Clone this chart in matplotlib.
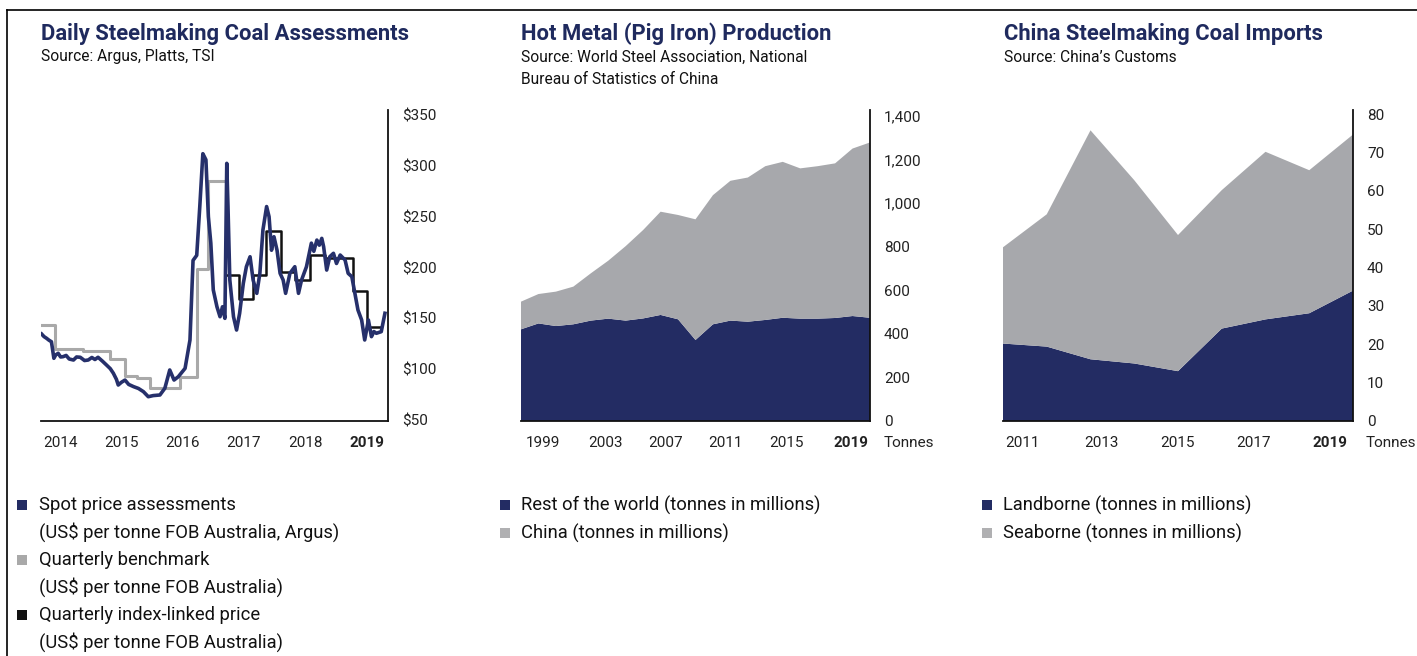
import numpy as np
import matplotlib
matplotlib.use("Agg")
import matplotlib.pyplot as plt
from matplotlib.patches import Rectangle
from matplotlib.lines import Line2D

plt.rcParams['font.family'] = ['Roboto', 'DejaVu Sans']

NAVY = '#232c63'
GREY = '#a7a8ac'
TITLE = '#1f2a5e'

# --- panel 1: daily steelmaking coal assessments (US$/t) ---
spot_t = [2013.70, 2013.74, 2013.78, 2013.82, 2013.86, 2013.90, 2013.93, 2013.97, 2014.01, 2014.05,
          2014.10, 2014.15, 2014.22, 2014.27, 2014.33, 2014.40, 2014.46, 2014.52, 2014.57, 2014.62,
          2014.69, 2014.76, 2014.82, 2014.87, 2014.92, 2014.95, 2015.00, 2015.06, 2015.12, 2015.20,
          2015.28, 2015.36, 2015.44, 2015.52, 2015.63, 2015.71, 2015.79, 2015.86, 2015.93, 2016.04,
          2016.12, 2016.17, 2016.23, 2016.28, 2016.33, 2016.38, 2016.42, 2016.46, 2016.50, 2016.56,
          2016.61, 2016.65, 2016.69, 2016.72, 2016.74, 2016.77, 2016.83, 2016.88, 2016.93, 2016.99,
          2017.04, 2017.10, 2017.15, 2017.21, 2017.26, 2017.31, 2017.37, 2017.41, 2017.45, 2017.49,
          2017.54, 2017.59, 2017.64, 2017.68, 2017.75, 2017.83, 2017.89, 2017.94, 2018.02, 2018.10,
          2018.14, 2018.19, 2018.23, 2018.27, 2018.30, 2018.35, 2018.40, 2018.46, 2018.51, 2018.57,
          2018.65, 2018.70, 2018.76, 2018.81, 2018.86, 2018.92, 2018.97, 2019.03, 2019.08, 2019.12,
          2019.16, 2019.24, 2019.30]
spot_v = [134.6, 132.0, 130.4, 128.5, 127.0, 110.7, 114.0, 115.6, 112.0, 112.3,
          113.5, 110.0, 109.0, 112.0, 111.7, 108.5, 109.0, 111.5, 109.5, 111.7,
          108.0, 104.0, 100.5, 96.0, 90.0, 84.4, 87.0, 89.3, 85.0, 82.8,
          81.0, 77.9, 72.9, 74.0, 74.6, 81.2, 99.2, 89.3, 92.6, 100.8,
          128.7, 207.0, 212.0, 260.0, 312.0, 306.0, 250.0, 224.0, 178.0, 161.4,
          151.6, 161.4, 150.0, 302.5, 260.0, 187.7, 151.6, 138.5, 155.0, 184.5,
          200.8, 210.6, 187.7, 174.6, 194.3, 237.0, 260.0, 250.0, 217.0, 230.3,
          217.0, 194.3, 187.7, 174.6, 194.3, 200.8, 174.6, 187.7, 200.8, 224.0,
          216.0, 227.0, 222.0, 228.7, 220.5, 197.5, 210.6, 214.0, 204.0, 212.3,
          207.4, 194.3, 191.0, 174.6, 158.2, 148.4, 128.7, 148.4, 132.0, 137.0,
          135.3, 136.9, 155.0]

bench_t = [2013.70, 2013.92, 2014.38, 2014.82, 2015.06, 2015.25, 2015.47, 2015.96, 2016.23, 2016.42, 2016.69]
bench_v = [143, 120, 118, 110, 93, 91, 81, 92, 199, 285]

index_t = [2016.72, 2016.92, 2017.14, 2017.36, 2017.61, 2017.83, 2018.08, 2018.32, 2018.78, 2019.01, 2019.24]
index_v = [193, 169, 193, 236, 196, 188, 212, 209, 177, 141]

price_ticks = [50, 100, 150, 200, 250, 300, 350]
years1 = [2014, 2015, 2016, 2017, 2018, 2019]

# --- panel 2: hot metal production (Mt) ---
years2 = list(range(1999, 2020))
rest_world = [421, 448, 436, 444, 461, 470, 461, 471, 487, 467, 372, 444, 461, 456, 464, 474, 470, 470, 473, 482, 474]
china = [127, 135, 158, 173, 217, 266, 342, 406, 474, 479, 554, 593, 642, 662, 706, 716, 690, 700, 710, 769, 805]
labels2 = ['1999', '2003', '2007', '2011', '2015', '2019']
label_pos2 = [2000.24, 2003.82, 2007.26, 2010.70, 2014.21, 2017.89]
ticks2 = [0, 200, 400, 600, 800, 1000, 1200, 1400]

# --- panel 3: China steelmaking coal imports (Mt) ---
years3 = list(range(2011, 2020))
landborne = [20.2, 19.4, 16.1, 15.0, 13.0, 24.1, 26.5, 28.1, 34.0]
seaborne = [25.1, 34.5, 59.7, 47.8, 35.5, 36.1, 43.7, 37.3, 40.7]
labels3 = ['2011', '2013', '2015', '2017', '2019']
label_pos3 = [2011.44, 2013.25, 2014.98, 2016.72, 2018.48]
ticks3 = [0, 10, 20, 30, 40, 50, 60, 70, 80]

W, H = 1417, 656
fig = plt.figure(figsize=(W / 100, H / 100), dpi=100)


def px_axes(x0, x1, y0=110, y1=421):
    return fig.add_axes([x0 / W, 1 - y1 / H, (x1 - x0) / W, (y1 - y0) / H])


def style(ax, xt, xl):
    for s in ['top', 'left']:
        ax.spines[s].set_visible(False)
    for s in ['bottom', 'right']:
        ax.spines[s].set_linewidth(1.3)
        ax.spines[s].set_color('#111111')
    ax.yaxis.tick_right()
    ax.tick_params(axis='both', length=0, labelsize=11, colors='#222222')
    ax.tick_params(axis='y', pad=10)
    ax.tick_params(axis='x', pad=11)
    for lab in ax.get_yticklabels():
        lab.set_horizontalalignment('left')
    ax.set_xticks(xt)
    ax.set_xticklabels(xl)
    ax.get_xticklabels()[-1].set_fontweight('bold')
    ax.set_facecolor('none')


ax1 = px_axes(41, 388)
ax1.step(bench_t, bench_v + [bench_v[-1]], where='post', color='#a9a9a9', lw=2.2)
ax1.step(index_t, index_v + [index_v[-1]], where='post', color='#111111', lw=1.8)
ax1.plot(spot_t, spot_v, color='#26306b', lw=2.6, solid_joinstyle='round')
ax1.set_xlim(2013.69, 2019.35)
ax1.set_ylim(49, 355)
ax1.set_yticks(price_ticks)
ax1.set_yticklabels(['$%d' % v for v in price_ticks])
style(ax1, years1, [str(y) for y in years1])

ax2 = px_axes(521, 870)
ax2.stackplot(years2, rest_world, china, colors=[NAVY, GREY], linewidth=0)
ax2.set_xlim(1999, 2019)
ax2.set_ylim(0, 1428)
ax2.set_yticks(ticks2)
ax2.set_yticklabels(['{:,}'.format(v) for v in ticks2])
style(ax2, label_pos2, labels2)

ax3 = px_axes(1003, 1353)
ax3.stackplot(years3, landborne, seaborne, colors=[NAVY, GREY], linewidth=0)
ax3.set_xlim(2011, 2019)
ax3.set_ylim(0, 81.1)
ax3.set_yticks(ticks3)
ax3.set_yticklabels([str(v) for v in ticks3])
style(ax3, label_pos3, labels3)

for xp in [884, 1366]:
    fig.text(xp / W, 1 - 443 / H, 'Tonnes', fontsize=11, color='#222222', va='center', ha='left')

# titles and sources
titles = [(41, 'Daily Steelmaking Coal Assessments', ['Source: Argus, Platts, TSI']),
          (521, 'Hot Metal (Pig Iron) Production', ['Source: World Steel Association, National',
                                                   'Bureau of Statistics of China']),
          (1004, 'China Steelmaking Coal Imports', ["Source: China\u2019s Customs"])]
for xp, t, src in titles:
    fig.text(xp / W, 1 - 40 / H, t, fontsize=15.8, fontweight='bold', color=TITLE, va='baseline')
    for i, s in enumerate(src):
        fig.text(xp / W, 1 - (61.5 + 22.5 * i) / H, s, fontsize=11.2, color='#111111', va='baseline')

# legends
legend_rows = [
    (17, 39, NAVY, ['Spot price assessments', '(US$ per tonne FOB Australia, Argus)'], 505),
    (17, 39, '#a9a9a9', ['Quarterly benchmark', '(US$ per tonne FOB Australia)'], 560),
    (17, 39, '#111111', ['Quarterly index-linked price', '(US$ per tonne FOB Australia)'], 615),
    (500, 521, NAVY, ['Rest of the world (tonnes in millions)'], 505),
    (500, 521, '#b0b0b2', ['China (tonnes in millions)'], 533),
    (982, 1003, NAVY, ['Landborne (tonnes in millions)'], 505),
    (982, 1003, '#b0b0b2', ['Seaborne (tonnes in millions)'], 533),
]
for sx, tx, c, lines, yc in legend_rows:
    fig.add_artist(Rectangle((sx / W, 1 - (yc + 5) / H), 10 / W, 10 / H, transform=fig.transFigure,
                             color=c, lw=0))
    for i, s in enumerate(lines):
        fig.text(tx / W, 1 - (yc + 27.5 * i) / H, s, fontsize=13.2, color='#111111', va='center')

# frame lines on left and top
fig.add_artist(Line2D([7 / W, 7 / W], [0, 1 - 10 / H], transform=fig.transFigure, color='black', lw=1.2))
fig.add_artist(Line2D([7 / W, 1], [1 - 10 / H, 1 - 10 / H], transform=fig.transFigure, color='black', lw=1.2))

fig.savefig('out.png', dpi=100)
